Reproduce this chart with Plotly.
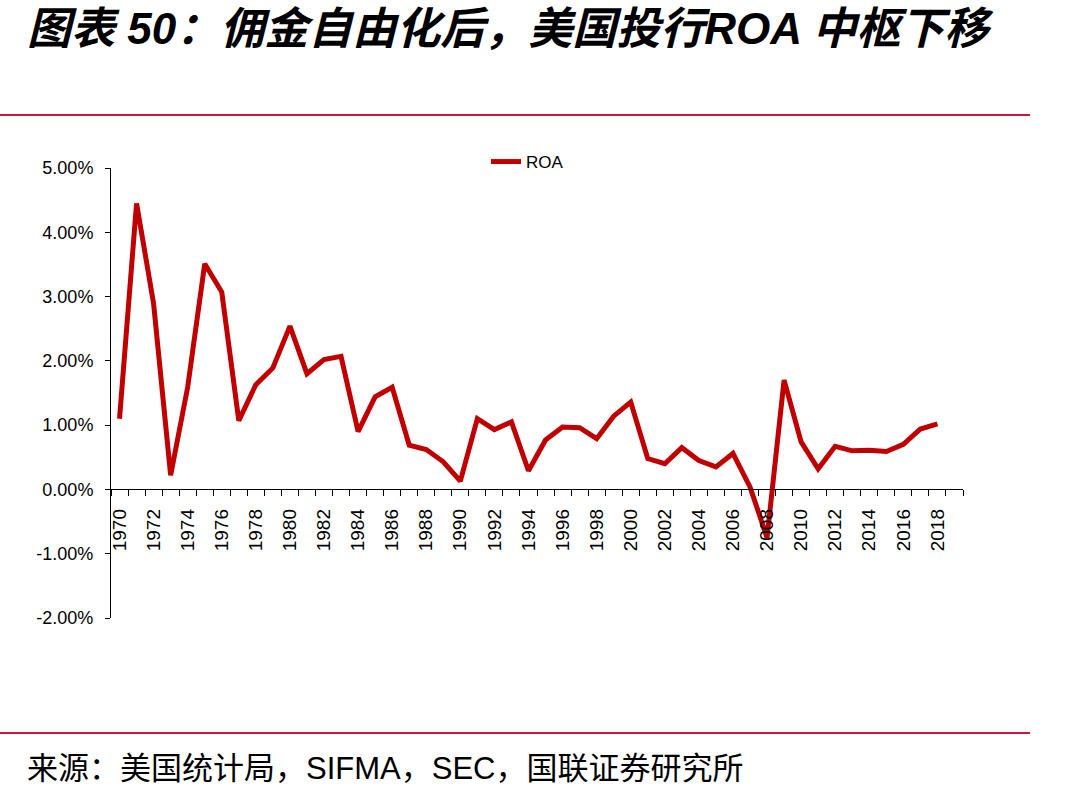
import plotly.graph_objects as go

# ---- data ----
years = list(range(1970, 2019))
roa = [1.10, 4.45, 2.89, 0.22, 1.59, 3.51, 3.07, 1.07, 1.63, 1.89,
       2.54, 1.80, 2.02, 2.07, 0.90, 1.44, 1.59, 0.69, 0.62, 0.43,
       0.13, 1.10, 0.93, 1.05, 0.29, 0.77, 0.97, 0.96, 0.79, 1.14,
       1.36, 0.48, 0.40, 0.65, 0.45, 0.35, 0.56, 0.04, -0.75, 1.70,
       0.74, 0.32, 0.67, 0.60, 0.61, 0.59, 0.70, 0.94, 1.02]
y_ticks = [-2, -1, 0, 1, 2, 3, 4, 5]
y_ticktext = [f"{v:.2f}%" for v in y_ticks]
x_label_years = list(range(1970, 2019, 2))
x_boundaries = [1969.5 + i for i in range(51)]

title_text = "图表 50：佣金自由化后，美国投行<b>ROA</b> 中枢下移"
source_text = "来源：美国统计局，SIFMA，SEC，国联证券研究所"

# ---- geometry helpers (pixel -> paper) ----
W, H = 1092, 799
L, R, T, B = 111, 963, 168, 618


def px_x(p):
    return (p - L) / (R - L)


def px_y(p):
    return (B - p) / (B - T)


RED_RULE = "#C8193C"
LINE_RED = "#C00000"
FONT_LAT = "Liberation Sans, Arial, Noto Sans CJK SC"

fig = go.Figure()
fig.add_trace(go.Scatter(
    x=years, y=roa, mode="lines", name="ROA",
    line=dict(color=LINE_RED, width=5),
))

fig.update_layout(
    width=W, height=H,
    margin=dict(l=L, r=W - R, t=T, b=H - B, pad=0),
    paper_bgcolor="white", plot_bgcolor="white",
    font=dict(family=FONT_LAT, color="black"),
    showlegend=True,
    legend=dict(
        x=px_x(486), y=px_y(144), xanchor="left", yanchor="top",
        font=dict(size=17, family=FONT_LAT, color="black"),
        bgcolor="rgba(0,0,0,0)", borderwidth=0,
    ),
    xaxis=dict(
        range=[1969.5, 2019.5],
        anchor="free", position=2 / 7,
        showline=True, linecolor="black", linewidth=1,
        showgrid=False, zeroline=False,
        tickmode="array", tickvals=x_label_years,
        ticktext=[str(y) for y in x_label_years],
        ticks="", tickangle=-90,
        tickfont=dict(size=19, family=FONT_LAT, color="black"),
        ticklabelstandoff=11,
        minor=dict(tickmode="array", tickvals=x_boundaries,
                   ticks="outside", ticklen=6, tickwidth=1,
                   tickcolor="black", showgrid=False),
    ),
    yaxis=dict(
        range=[-2, 5],
        showline=True, linecolor="black", linewidth=1,
        showgrid=False, zeroline=False,
        tickmode="array", tickvals=y_ticks, ticktext=y_ticktext,
        ticks="outside", ticklen=5, tickwidth=1, tickcolor="black",
        tickfont=dict(size=18, family=FONT_LAT, color="black"),
        ticklabelstandoff=8,
    ),
    shapes=[
        dict(type="line", xref="paper", yref="paper",
             x0=px_x(0), x1=px_x(1030), y0=px_y(115), y1=px_y(115),
             line=dict(color=RED_RULE, width=2)),
        dict(type="line", xref="paper", yref="paper",
             x0=px_x(0), x1=px_x(1030), y0=px_y(733), y1=px_y(733),
             line=dict(color=RED_RULE, width=2)),
    ],
    annotations=[
        dict(text=title_text, xref="paper", yref="paper",
             x=px_x(25), y=px_y(29), xanchor="left", yanchor="middle",
             showarrow=False,
             font=dict(size=44, family="Liberation Sans, Noto Sans CJK SC",
                       color="black", weight="bold", style="italic")),
        dict(text=source_text, xref="paper", yref="paper",
             x=px_x(25), y=px_y(768), xanchor="left", yanchor="middle",
             showarrow=False,
             font=dict(size=31, family="Liberation Sans, Noto Sans CJK SC",
                       color="black")),
    ],
)

fig.write_html("out.html")
